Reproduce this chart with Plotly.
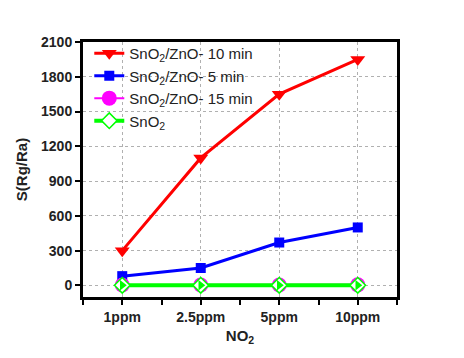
import plotly.graph_objects as go

categories = ["1ppm", "2.5ppm", "5ppm", "10ppm"]
s_10min = [300, 1100, 1650, 1950]
s_5min = [80, 150, 370, 500]
s_15min = [3, 3, 4, 5]
s_sno2 = [1, 1, 1, 1]
yticks = [0, 300, 600, 900, 1200, 1500, 1800, 2100]

xpos = list(range(len(categories)))
FONT = "Liberation Sans, Arial"

fig = go.Figure()
fig.add_trace(go.Scatter(x=xpos, y=s_10min, mode="lines+markers",
    name="SnO<sub>2</sub>/ZnO- 10 min",
    line=dict(color="#ff0000", width=3),
    marker=dict(symbol="triangle-down", size=13, color="#ff0000")))
fig.add_trace(go.Scatter(x=xpos, y=s_5min, mode="lines+markers",
    name="SnO<sub>2</sub>/ZnO- 5 min",
    line=dict(color="#0000ff", width=3),
    marker=dict(symbol="square", size=10, color="#0000ff")))
fig.add_trace(go.Scatter(x=xpos, y=s_15min, mode="lines+markers",
    name="SnO<sub>2</sub>/ZnO- 15 min",
    line=dict(color="#ff00ff", width=2),
    marker=dict(symbol="circle", size=15, color="#ff00ff")))
fig.add_trace(go.Scatter(x=xpos, y=s_sno2, mode="lines+markers",
    name="SnO<sub>2</sub>", legendgroup="sno2",
    line=dict(color="#00ff00", width=4),
    marker=dict(symbol="diamond", size=12, color="white",
                line=dict(color="#00ff00", width=1.5))))
fig.add_trace(go.Scatter(x=xpos, y=s_sno2, mode="markers",
    showlegend=False, legendgroup="sno2", hoverinfo="skip",
    marker=dict(symbol="triangle-right", size=9, color="#00ff00")))

axis_common = dict(showline=True, linecolor="black", linewidth=3, mirror=True,
                   ticks="outside", tickwidth=2, ticklen=5, tickcolor="black",
                   showgrid=True, gridcolor="#b0b0b0", griddash="dot", gridwidth=1,
                   zeroline=False, automargin=False,
                   tickfont=dict(family=FONT, size=14, color="#222"))

fig.update_xaxes(**axis_common, tickvals=xpos, ticktext=["<b>%s</b>" % c for c in categories],
                 range=[-0.5, 3.5],
                 minor=dict(dtick=0.5, tick0=0, ticks="outside", ticklen=5, tickwidth=2,
                            tickcolor="black", showgrid=False),
                 title=dict(text="<b>NO<sub>2</sub></b>", font=dict(family=FONT, size=15, color="#222"), standoff=7))
fig.update_yaxes(**axis_common, tickvals=yticks, ticktext=["<b>%d</b>" % v for v in yticks],
                 range=[-100, 2100],
                 title=dict(text="<b>S(Rg/Ra)</b>", font=dict(family=FONT, size=15, color="#222"), standoff=10))

# page body adds an 8px offset; compensate in size and margins
fig.update_layout(width=456, height=350,
                  margin=dict(l=75, r=67, t=34, b=61),
                  plot_bgcolor="white", paper_bgcolor="white",
                  showlegend=True,
                  legend=dict(x=0.02, y=1.02, xanchor="left", yanchor="top",
                              bgcolor="rgba(0,0,0,0)",
                              font=dict(family=FONT, size=15, color="#222"),
                              tracegroupgap=0, itemwidth=30))

fig.write_html("out.html")
